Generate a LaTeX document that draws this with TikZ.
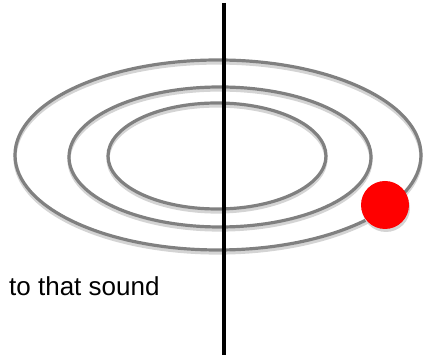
\documentclass[tikz,border=0pt]{standalone}
\usepackage{fontspec}
\setmainfont{Liberation Sans}
\definecolor{RingGray}  {RGB}{128,128,128}
\definecolor{ShadowGray}{RGB}{212,212,212}
\definecolor{DotRed}    {RGB}{255,0,0}
\usetikzlibrary{positioning}
\tikzset{
  ring/.style={RingGray,line width=3.2pt},
  ringshadow/.style={ShadowGray,line width=3.2pt},
}
\begin{document}
\begin{tikzpicture}[x=1pt,y=1pt]
  % Frame of the picture (430 x 358)
  \useasboundingbox (0,0) rectangle (430,358);
  % Ring shadows
  \draw[ringshadow](218,200) ellipse (203 and 95);
  \draw[ringshadow](220,198) ellipse (151 and 70);
  \draw[ringshadow](217,199) ellipse (109 and 53);
  % Rings
  \draw[ring](218,203) ellipse (203 and 95);
  \draw[ring](220,201) ellipse (151 and 70);
  \draw[ring](217,202) ellipse (109 and 53);
  % Vertical axis
  \draw[black,line width=4pt](224,355)--(224,3);
  % Red dot with its shadow
  \fill[ShadowGray](386,150) circle(24);
  \fill[DotRed](385,153) circle(24);
  % Caption
  \node[font=\fontsize{26}{30}\selectfont,anchor=base west,inner sep=0pt]
       (caption) at (9,62) {to that sound};
\end{tikzpicture}
\end{document}
